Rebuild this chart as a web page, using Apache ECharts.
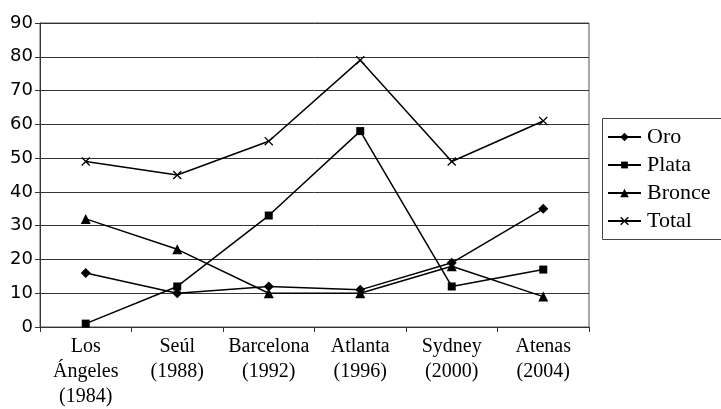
<!DOCTYPE html>
<html>
<head>
<meta charset="utf-8">
<script src="https://cdn.jsdelivr.net/npm/echarts@6/dist/echarts.min.js"></script>
<style>
  html, body { margin: 0; padding: 0; background: #fff; }
  #chart { width: 721px; height: 409px; }
</style>
</head>
<body>
<div id="chart"></div>
<script>
// Medallas por Juegos Olímpicos
const sedes = ['Los\nÁngeles\n(1984)', 'Seúl\n(1988)', 'Barcelona\n(1992)', 'Atlanta\n(1996)', 'Sydney\n(2000)', 'Atenas\n(2004)'];
const oro    = [16, 10, 12, 11, 19, 35];
const plata  = [1, 12, 33, 58, 12, 17];
const bronce = [32, 23, 10, 10, 18, 9];
const total  = [49, 45, 55, 79, 49, 61];
const seriesNames = ['Oro', 'Plata', 'Bronce', 'Total'];
const yTicks = { min: 0, max: 90, interval: 10 };

const SERIF = 'Liberation Serif';
const SANS = 'DejaVu Sans';
const crossPath = 'M0,1L1,0L5,4L9,0L10,1L6,5L10,9L9,10L5,6L1,10L0,9L4,5Z';
const symbols = ['diamond', 'rect', 'triangle', 'path://' + crossPath];
const symbolSizes = [10, 8, 10, 9];

function serie(i, data) {
  return {
    name: seriesNames[i],
    type: 'line',
    data: data,
    symbol: symbols[i],
    symbolSize: symbolSizes[i],
    showAllSymbol: true,
    lineStyle: { color: '#000', width: 1.5 },
    itemStyle: { color: '#000', borderWidth: 0 },
    emphasis: { disabled: true },
    animation: false
  };
}

// Legend box drawn as graphic elements (line + marker + serif label per series)
function legendGraphic() {
  const box = { x: 602, y: 118, w: 122, h: 121 };
  const rowTop = 137, rowGap = 28, lineX1 = 608, lineX2 = 641, textX = 647;
  const mk = (i, cx, cy) => {
    const s = symbolSizes[i] * 0.85, h = s / 2;
    if (i === 0) return [{ type: 'polygon', shape: { points: [[cx, cy - h], [cx + h, cy], [cx, cy + h], [cx - h, cy]] }, style: { fill: '#000' } }];
    if (i === 1) return [{ type: 'rect', shape: { x: cx - h, y: cy - h, width: s, height: s }, style: { fill: '#000' } }];
    if (i === 2) return [{ type: 'polygon', shape: { points: [[cx, cy - h], [cx + h, cy + h], [cx - h, cy + h]] }, style: { fill: '#000' } }];
    return [
      { type: 'line', shape: { x1: cx - h, y1: cy - h, x2: cx + h, y2: cy + h }, style: { stroke: '#000', lineWidth: 1.4 } },
      { type: 'line', shape: { x1: cx - h, y1: cy + h, x2: cx + h, y2: cy - h }, style: { stroke: '#000', lineWidth: 1.4 } }
    ];
  };
  const children = [{ type: 'rect', shape: { x: box.x + 0.5, y: box.y + 0.5, width: box.w, height: box.h }, style: { fill: '#fff', stroke: '#444', lineWidth: 1 } }];
  seriesNames.forEach((name, i) => {
    const cy = rowTop + i * rowGap;
    children.push({ type: 'line', shape: { x1: lineX1, y1: cy, x2: lineX2, y2: cy }, style: { stroke: '#000', lineWidth: 2 } });
    mk(i, (lineX1 + lineX2) / 2, cy).forEach(el => children.push(el));
    children.push({
      type: 'text',
      style: {
        text: name, x: textX, y: cy,
        font: '22px "' + SERIF + '"', fontFamily: SERIF, fontSize: 22,
        fill: '#000', verticalAlign: 'middle', align: 'left'
      }
    });
  });
  return [{ type: 'group', silent: true, children: children }];
}

const chart = echarts.init(document.getElementById('chart'));
chart.setOption({
  backgroundColor: '#fff',
  animation: false,
  grid: {
    left: 40, right: 132, top: 23, bottom: 74,
    show: true, borderColor: '#555', borderWidth: 1, backgroundColor: 'transparent'
  },
  graphic: legendGraphic(),
  xAxis: {
    type: 'category',
    data: sedes,
    boundaryGap: true,
    axisLine: { show: true, lineStyle: { color: '#333', width: 1 } },
    axisTick: { show: true, inside: false, length: 5, alignWithLabel: false, lineStyle: { color: '#333' } },
    axisLabel: {
      fontFamily: SERIF, fontSize: 20, color: '#000', lineHeight: 25, margin: 7, interval: 0
    },
    splitLine: { show: false }
  },
  yAxis: {
    type: 'value',
    min: yTicks.min, max: yTicks.max, interval: yTicks.interval,
    axisLine: { show: true, lineStyle: { color: '#333', width: 1 } },
    axisTick: { show: true, inside: false, length: 5, lineStyle: { color: '#333' } },
    axisLabel: { fontFamily: SANS, fontSize: 18, color: '#000', margin: 7 },
    splitLine: { show: true, lineStyle: { color: '#333', width: 1 } }
  },
  series: [
    serie(0, oro),
    serie(1, plata),
    serie(2, bronce),
    serie(3, total)
  ]
});
</script>
</body>
</html>
